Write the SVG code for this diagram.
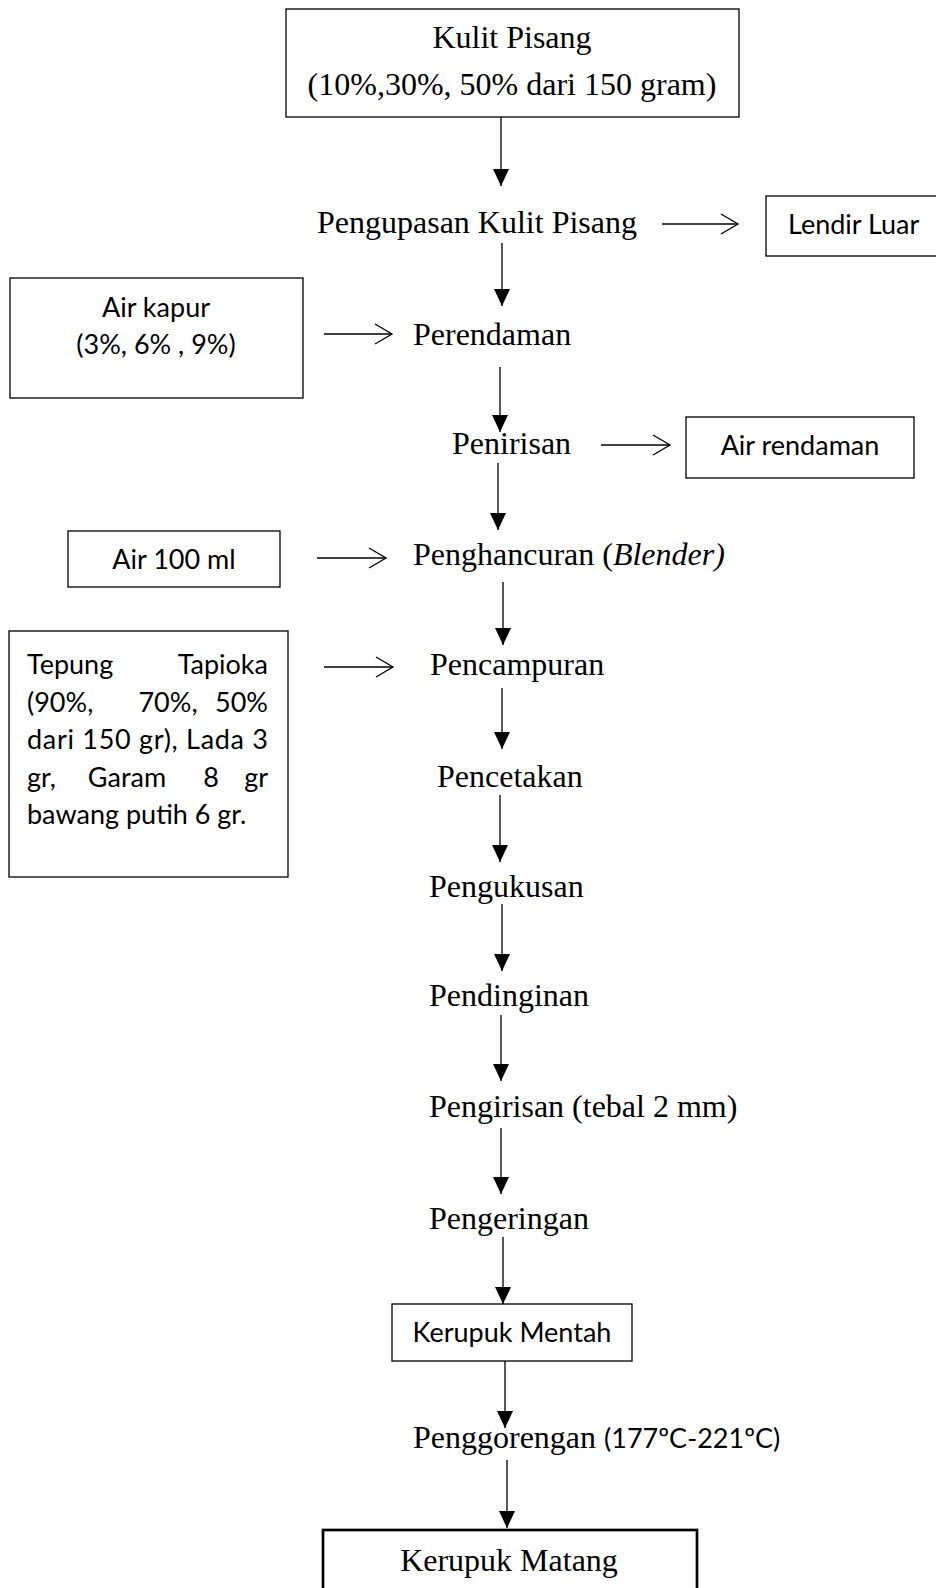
<svg xmlns="http://www.w3.org/2000/svg" width="936" height="1588" viewBox="0 0 936 1588">
<style>
.serif{font-family:"Liberation Serif","Times New Roman",serif;font-size:32px;fill:#000}
.sans{font-family:Lato,"Liberation Sans",sans-serif;font-size:27px;fill:#000}
.box{fill:#fff;stroke:#000;stroke-width:1.3}
.ln{stroke:#000;stroke-width:1.3;fill:none}
.v{marker-end:url(#tri)}
.h{marker-end:url(#chev)}
</style>
<defs>
<marker id="tri" markerUnits="userSpaceOnUse" viewBox="0 0 17 16" markerWidth="17" markerHeight="16" refX="17" refY="8" orient="auto" overflow="visible">
<path d="M0,0 L17,8 L0,16 z" fill="#000"/>
</marker>
<marker id="chev" markerUnits="userSpaceOnUse" viewBox="0 0 18 22" markerWidth="18" markerHeight="22" refX="17" refY="11" orient="auto" overflow="visible">
<path d="M0,1 L17,11 L0,21" fill="none" stroke="#000" stroke-width="1.3"/>
</marker>
</defs>
<rect width="936" height="1588" fill="#fff"/>

<g id="connectors">
<line class="ln v" x1="501" y1="117" x2="501" y2="186"/>
<line class="ln h" x1="662" y1="224" x2="738" y2="224"/>
<line class="ln v" x1="502" y1="243" x2="502" y2="306"/>
<line class="ln h" x1="324" y1="334" x2="392" y2="334"/>
<line class="ln v" x1="500" y1="367" x2="500" y2="432"/>
<line class="ln h" x1="601" y1="445" x2="670" y2="445"/>
<line class="ln v" x1="498" y1="463" x2="498" y2="530"/>
<line class="ln h" x1="317" y1="558" x2="386" y2="558"/>
<line class="ln v" x1="503" y1="582" x2="503" y2="645"/>
<line class="ln h" x1="324" y1="667" x2="393" y2="667"/>
<line class="ln v" x1="502" y1="688" x2="502" y2="749"/>
<line class="ln v" x1="500" y1="795" x2="500" y2="862"/>
<line class="ln v" x1="502" y1="904" x2="502" y2="971"/>
<line class="ln v" x1="501" y1="1015" x2="501" y2="1081"/>
<line class="ln v" x1="501" y1="1128" x2="501" y2="1194"/>
<line class="ln v" x1="503" y1="1237" x2="503" y2="1304"/>
<line class="ln v" x1="505" y1="1361" x2="505" y2="1428"/>
<line class="ln v" x1="507" y1="1460" x2="507" y2="1528"/>
</g>

<g id="kulit-pisang">
<rect class="box" x="286" y="9" width="453" height="108"/>
<text class="serif" x="512" y="48" text-anchor="middle">Kulit Pisang</text>
<text class="serif" x="512" y="95" text-anchor="middle">(10%,30%, 50% dari 150 gram)</text>
</g>

<g id="pengupasan">
<text class="serif" x="317" y="233">Pengupasan Kulit Pisang</text>
</g>

<g id="lendir-luar">
<rect class="box" x="766" y="196" width="175" height="60"/>
<text class="sans" x="788" y="234">Lendir Luar</text>
</g>

<g id="air-kapur">
<rect class="box" x="10" y="278" width="293" height="120"/>
<text class="sans" x="156" y="317" text-anchor="middle">Air kapur</text>
<text class="sans" x="156" y="354" text-anchor="middle">(3%, 6% , 9%)</text>
</g>

<g id="perendaman">
<text class="serif" x="413" y="345">Perendaman</text>
</g>

<g id="penirisan">
<text class="serif" x="452" y="454">Penirisan</text>
</g>

<g id="air-rendaman">
<rect class="box" x="686" y="417" width="228" height="61"/>
<text class="sans" x="800" y="455" text-anchor="middle">Air rendaman</text>
</g>

<g id="air-100ml">
<rect class="box" x="68" y="531" width="212" height="56"/>
<text class="sans" x="174" y="569" text-anchor="middle">Air 100 ml</text>
</g>

<g id="penghancuran">
<text class="serif" x="413" y="565">Penghancuran (<tspan font-style="italic">Blender)</tspan></text>
</g>

<g id="bahan">
<rect class="box" x="9" y="631" width="279" height="246"/>
<text class="sans" x="27" y="674">Tepung</text>
<text class="sans" x="268" y="674" text-anchor="end">Tapioka</text>
<text class="sans" x="27" y="712">(90%,</text>
<text class="sans" x="168" y="712" text-anchor="middle">70%,</text>
<text class="sans" x="268" y="712" text-anchor="end">50%</text>
<text class="sans" x="27" y="749" textLength="241" lengthAdjust="spacing">dari 150 gr), Lada 3</text>
<text class="sans" x="27" y="787">gr,</text>
<text class="sans" x="127" y="787" text-anchor="middle">Garam</text>
<text class="sans" x="211" y="787" text-anchor="middle">8</text>
<text class="sans" x="268" y="787" text-anchor="end">gr</text>
<text class="sans" x="27" y="824">bawang putih 6 gr.</text>
</g>

<g id="pencampuran">
<text class="serif" x="430" y="675">Pencampuran</text>
</g>

<g id="pencetakan">
<text class="serif" x="437" y="787">Pencetakan</text>
</g>

<g id="pengukusan">
<text class="serif" x="429" y="897">Pengukusan</text>
</g>

<g id="pendinginan">
<text class="serif" x="429" y="1006">Pendinginan</text>
</g>

<g id="pengirisan">
<text class="serif" x="429" y="1117">Pengirisan (tebal 2 mm)</text>
</g>

<g id="pengeringan">
<text class="serif" x="429" y="1229">Pengeringan</text>
</g>

<g id="kerupuk-mentah">
<rect class="box" x="392" y="1304" width="240" height="57"/>
<text class="sans" x="512" y="1342" text-anchor="middle">Kerupuk Mentah</text>
</g>

<g id="penggorengan">
<text class="serif" x="413" y="1448">Penggorengan <tspan class="sans">(177ºC-221ºC)</tspan></text>
</g>

<g id="kerupuk-matang">
<rect x="323" y="1530" width="374" height="70" fill="#fff" stroke="#000" stroke-width="2.7"/>
<text class="serif" x="509" y="1571" text-anchor="middle">Kerupuk Matang</text>
</g>
</svg>
